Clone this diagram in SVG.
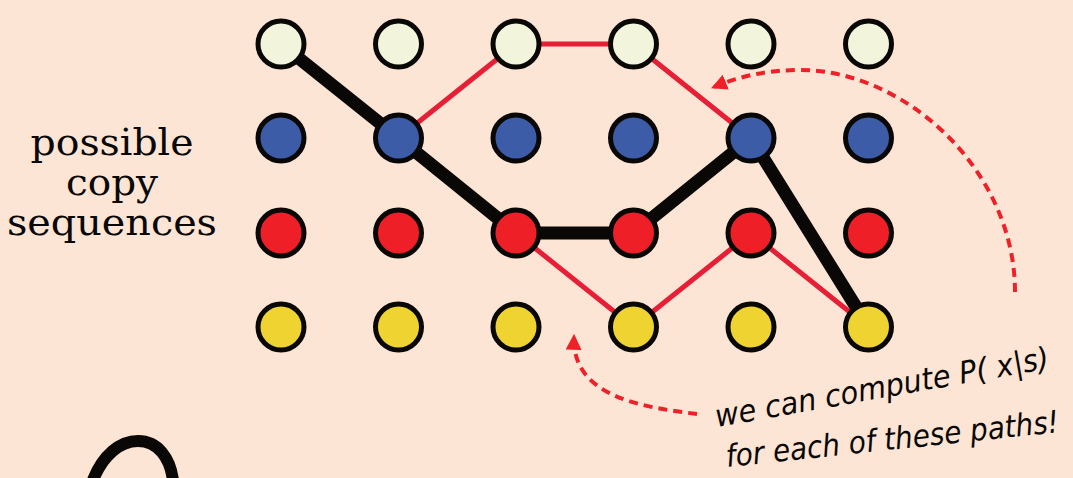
<svg xmlns="http://www.w3.org/2000/svg" width="1073" height="478" viewBox="0 0 1073 478">
  <defs>
    <marker id="redHead" viewBox="0 0 10 10" refX="8" refY="5" markerWidth="4" markerHeight="4" orient="auto" markerUnits="strokeWidth">
      <path d="M0,0 L10,5 L0,10 Z" fill="#ee2129"/>
    </marker>
    <style>
      .node { stroke: #0a0806; stroke-width: 5; }
      .light { fill: #f2f5dc; }
      .blue { fill: #3d5ca8; }
      .red { fill: #ee1f27; }
      .yellow { fill: #efd431; }
      .best { fill: none; stroke: #0a0806; stroke-width: 13; stroke-linejoin: round; }
      .alt { fill: none; stroke: #e61f36; stroke-width: 5; stroke-linejoin: round; }
      .note { fill: none; stroke: #ee2129; stroke-width: 4; stroke-dasharray: 9 6; }
      .label { font-family: "DejaVu Serif", serif; font-size: 38px; fill: #0a0806; text-anchor: middle; }
      .hand { font-family: "DejaVu Sans", "Liberation Sans", sans-serif; font-style: italic; font-size: 31px; fill: #0a0806; }
    </style>
  </defs>

  <rect width="1073" height="478" fill="#fde5d5"/>

  <!-- row label -->
  <g id="label">
    <text class="label" x="112" y="155" textLength="163" lengthAdjust="spacingAndGlyphs">possible</text>
    <text class="label" x="112" y="195" textLength="92" lengthAdjust="spacingAndGlyphs">copy</text>
    <text class="label" x="112" y="235" textLength="210" lengthAdjust="spacingAndGlyphs">sequences</text>
  </g>

  <!-- paths through the lattice -->
  <g id="connectors">
    <polyline class="alt" points="398.5,138 516,44 633.5,44 751,138"/>
    <polyline class="alt" points="516,233 633.5,327 751,233 868.5,327"/>
    <polyline class="best" points="281,44 398.5,138 516,233 633.5,233 751,138 868.5,327"/>
    <path class="note" d="M1015,292 C1015,170 905,70 800,70 C765,70 738,77 714,87" marker-end="url(#redHead)"/>
    <path class="note" d="M697,414 C640,407 572,396 574,337" marker-end="url(#redHead)"/>
  </g>

  <!-- row 1 -->
  <g id="n-1-1"><circle class="node light" cx="281" cy="44" r="23"/></g>
  <g id="n-1-2"><circle class="node light" cx="398.5" cy="44" r="23"/></g>
  <g id="n-1-3"><circle class="node light" cx="516" cy="44" r="23"/></g>
  <g id="n-1-4"><circle class="node light" cx="633.5" cy="44" r="23"/></g>
  <g id="n-1-5"><circle class="node light" cx="751" cy="44" r="23"/></g>
  <g id="n-1-6"><circle class="node light" cx="868.5" cy="44" r="23"/></g>
  <!-- row 2 -->
  <g id="n-2-1"><circle class="node blue" cx="281" cy="138" r="23"/></g>
  <g id="n-2-2"><circle class="node blue" cx="398.5" cy="138" r="23"/></g>
  <g id="n-2-3"><circle class="node blue" cx="516" cy="138" r="23"/></g>
  <g id="n-2-4"><circle class="node blue" cx="633.5" cy="138" r="23"/></g>
  <g id="n-2-5"><circle class="node blue" cx="751" cy="138" r="23"/></g>
  <g id="n-2-6"><circle class="node blue" cx="868.5" cy="138" r="23"/></g>
  <!-- row 3 -->
  <g id="n-3-1"><circle class="node red" cx="281" cy="233" r="23"/></g>
  <g id="n-3-2"><circle class="node red" cx="398.5" cy="233" r="23"/></g>
  <g id="n-3-3"><circle class="node red" cx="516" cy="233" r="23"/></g>
  <g id="n-3-4"><circle class="node red" cx="633.5" cy="233" r="23"/></g>
  <g id="n-3-5"><circle class="node red" cx="751" cy="233" r="23"/></g>
  <g id="n-3-6"><circle class="node red" cx="868.5" cy="233" r="23"/></g>
  <!-- row 4 -->
  <g id="n-4-1"><circle class="node yellow" cx="281" cy="327" r="23"/></g>
  <g id="n-4-2"><circle class="node yellow" cx="398.5" cy="327" r="23"/></g>
  <g id="n-4-3"><circle class="node yellow" cx="516" cy="327" r="23"/></g>
  <g id="n-4-4"><circle class="node yellow" cx="633.5" cy="327" r="23"/></g>
  <g id="n-4-5"><circle class="node yellow" cx="751" cy="327" r="23"/></g>
  <g id="n-4-6"><circle class="node yellow" cx="868.5" cy="327" r="23"/></g>

  <!-- annotation: narrowed, tilted hand-style lines -->
  <g id="note">
    <g transform="translate(717 427) rotate(-10) scale(0.93 1)">
      <text class="hand" x="0" y="0">we can compute P( x|s)</text>
    </g>
    <g transform="translate(727 467) rotate(-6) scale(0.9 1)">
      <text class="hand" x="0" y="0">for each of these paths!</text>
    </g>
  </g>

  <!-- partial outline at the lower left -->
  <path d="M93,480 C103,455 120,441 138,441 C158,441 170,458 173,480" fill="none" stroke="#0a0806" stroke-width="12"/>
</svg>
